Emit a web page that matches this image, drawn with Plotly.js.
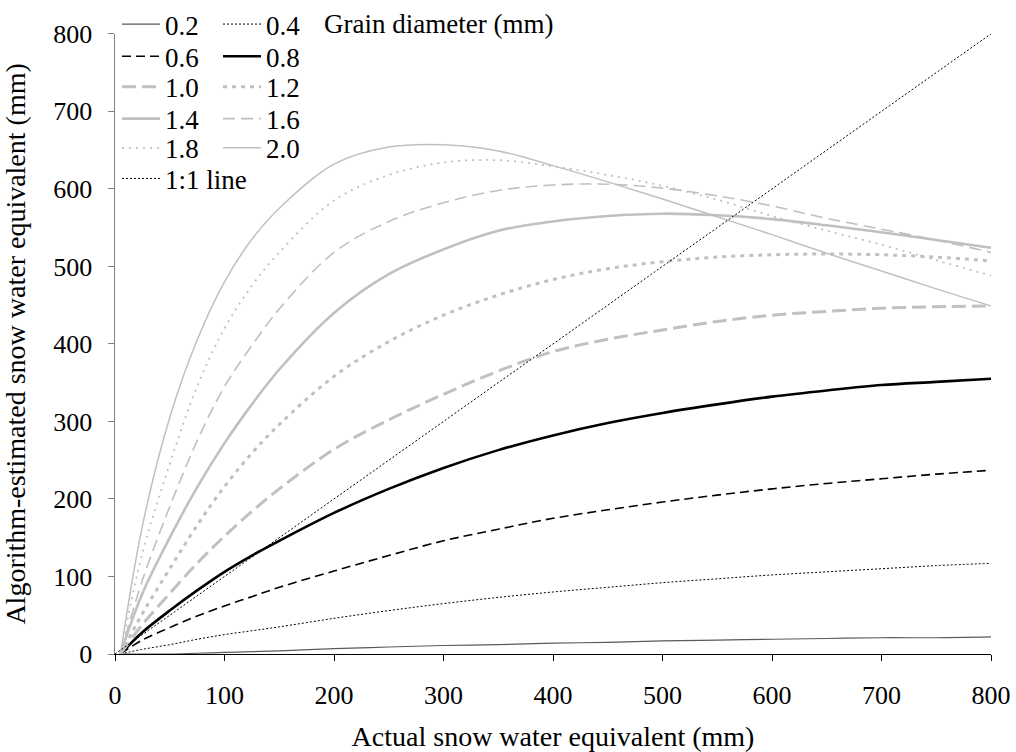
<!DOCTYPE html>
<html>
<head>
<meta charset="utf-8">
<script src="https://cdn.plot.ly/plotly-3.0.1.min.js"></script>
<style>html,body{margin:0;padding:0;background:#fff;}#chart{width:1016px;height:752px;}</style>
</head>
<body>
<div id="chart"></div>
<script>
// Actual snow water equivalent (mm)
const swe = [5, 25, 50, 75, 100, 125, 150, 200, 250, 300, 350, 400, 450, 500, 550, 600, 650, 700, 750, 800];
// Algorithm-estimated SWE (mm) for each grain diameter (mm)
const d02 = [0, 0, 0, 1, 2, 3, 4, 7, 9, 11, 12, 14, 15, 17, 18, 19, 20, 21, 21, 22];
const d04 = [0, 6, 12, 19, 25, 30, 35, 46, 56, 65, 73, 80, 86, 92, 97, 102, 106, 110, 114, 117];
const d06 = [0, 18, 34, 49, 62, 74, 86, 107, 127, 146, 161, 175, 186, 196, 205, 213, 220, 226, 232, 237];
const d08 = [0, 28, 56, 82, 106, 127, 146, 182, 213, 240, 263, 282, 298, 311, 322, 332, 340, 347, 351, 355];
const d10 = [0, 38, 78, 117, 152, 184, 213, 264, 302, 335, 365, 390, 406, 418, 429, 437, 442, 446, 448, 449];
const d12 = [0, 52, 110, 166, 216, 259, 296, 358, 403, 437, 463, 483, 497, 506, 512, 515, 516, 515, 512, 507];
const d14 = [0, 78, 150, 215, 272, 322, 367, 440, 490, 522, 546, 558, 565, 568, 566, 561, 553, 544, 534, 524];
const d16 = [0, 95, 190, 275, 345, 398, 445, 518, 558, 582, 598, 605, 606, 601, 591, 578, 562, 548, 534, 518];
const d18 = [0, 130, 245, 345, 420, 475, 518, 585, 618, 634, 637, 629, 618, 604, 586, 565, 546, 528, 508, 488];
const d20 = [0, 165, 305, 405, 480, 535, 575, 632, 654, 657, 649, 630, 609, 587, 564, 541, 517, 494, 471, 449];
const oneToOneX = [0, 800];
const oneToOneY = [0, 800];

const labels = ["0.2", "0.4", "0.6", "0.8", "1.0", "1.2", "1.4", "1.6", "1.8", "2.0", "1:1 line"];
const series = [d02, d04, d06, d08, d10, d12, d14, d16, d18, d20];

const G = "#c0c0c0";
const styles = [
  {color: "#5a5a5a", width: 1.2, dash: "solid", legend: "legend"},
  {color: "#000000", width: 1, dash: "2px,2px", legend: "legend"},
  {color: "#000000", width: 1.6, dash: "9px,5px", legend: "legend2"},
  {color: "#000000", width: 2.6, dash: "solid", legend: "legend2"},
  {color: G, width: 3, dash: "14px,6px", legend: "legend3"},
  {color: G, width: 3, dash: "4px,5px", legend: "legend3"},
  {color: G, width: 2.6, dash: "solid", legend: "legend4"},
  {color: G, width: 1.6, dash: "12px,6px", legend: "legend4"},
  {color: G, width: 1.8, dash: "2px,5px", legend: "legend5"},
  {color: G, width: 1.5, dash: "solid", legend: "legend5"}
];

const traces = series.map((s, i) => ({
  x: swe, y: s, type: "scatter", mode: "lines", name: labels[i],
  line: {color: styles[i].color, width: styles[i].width, dash: styles[i].dash, shape: "spline", smoothing: 1},
  legend: styles[i].legend, hoverinfo: "skip"
}));
traces.push({
  x: oneToOneX, y: oneToOneY, type: "scatter", mode: "lines", name: labels[10],
  line: {color: "#000000", width: 1, dash: "2px,2px"}, legend: "legend6", hoverinfo: "skip"
});

const FONT = "Liberation Serif, Times New Roman, serif";
// paper spans the full height above the bottom margin; y axis occupies the lower part
const rowY = [0.969, 0.919, 0.872, 0.823, 0.778, 0.731];
function lg(i, w) {
  return {
    x: 0.0023, xanchor: "left", y: rowY[i], yanchor: "middle",
    orientation: "h", entrywidth: w, entrywidthmode: "pixels",
    itemwidth: 38, bgcolor: "rgba(0,0,0,0)", borderwidth: 0,
    font: {family: FONT, size: 27, color: "#000"}, tracegroupgap: 0,
    itemclick: false, itemdoubleclick: false
  };
}

const layout = {
  width: 1016, height: 752,
  margin: {l: 115, r: 25, t: 0, b: 98, pad: 0},
  paper_bgcolor: "#fff", plot_bgcolor: "#fff",
  font: {family: FONT, size: 26, color: "#000"},
  showlegend: true,
  legend: lg(0, 48), legend2: lg(1, 48), legend3: lg(2, 48), legend4: lg(3, 48), legend5: lg(4, 48), legend6: lg(5, 150),
  xaxis: {
    range: [0, 800], dtick: 100, tick0: 0, showgrid: false, zeroline: false,
    showline: true, linecolor: "#000", linewidth: 1.2,
    ticks: "outside", ticklen: 6, tickcolor: "#000", tickwidth: 1,
    ticklabelstandoff: 12, tickfont: {family: FONT, size: 26},
    title: {text: "Actual snow water equivalent (mm)", font: {family: FONT, size: 28}, standoff: 18},
    automargin: false, fixedrange: true
  },
  yaxis: {
    domain: [0, 0.9541],
    range: [0, 800], dtick: 100, tick0: 0, showgrid: false, zeroline: false,
    showline: true, linecolor: "#808080", linewidth: 1.5,
    ticks: "outside", ticklen: 6, tickcolor: "#808080", tickwidth: 1,
    ticklabelstandoff: 10, tickfont: {family: FONT, size: 26},
    title: {text: "Algorithm-estimated snow water equivalent (mm)", font: {family: FONT, size: 28}, standoff: 20},
    automargin: false, fixedrange: true
  },
  annotations: [{
    text: "Grain diameter (mm)", xref: "paper", yref: "paper",
    x: 0.236, y: rowY[0], xanchor: "left", yanchor: "middle", showarrow: false,
    font: {family: FONT, size: 27, color: "#000"}
  }]
};

Plotly.newPlot("chart", traces, layout, {staticPlot: true, displayModeBar: false});
</script>
</body>
</html>
